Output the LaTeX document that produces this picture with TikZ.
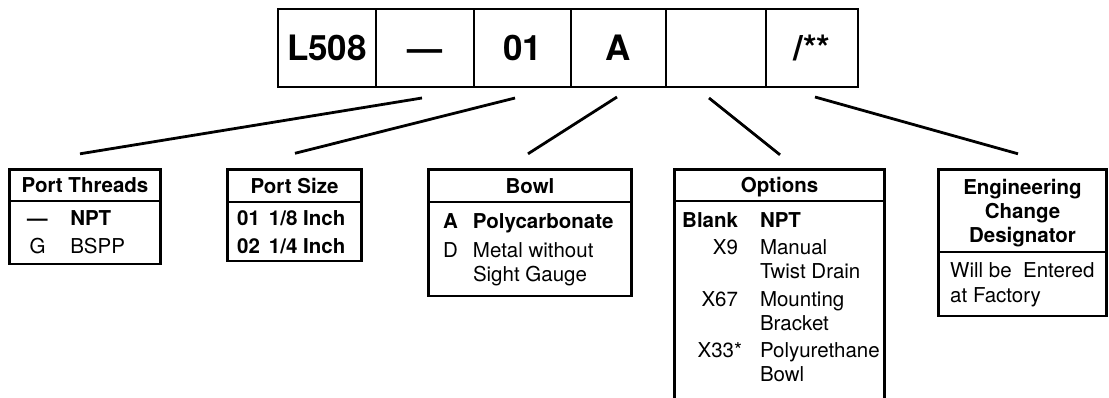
\documentclass[tikz,border=0pt]{standalone}
\usepackage{fontspec}
\setmainfont{TeX Gyre Heros}
\usetikzlibrary{positioning, calc}
\tikzstyle{cell} = [rectangle, draw=black, line width=2.6pt, outer sep=0pt, inner sep=0pt, minimum height=78pt, font=\fontsize{35}{40}\selectfont\bfseries, text height=25pt, text depth=0pt]
\tikzstyle{head} = [rectangle, draw=black, line width=2.6pt, outer sep=0pt, inner sep=0pt, align=center, font=\fontsize{20.5}{24}\selectfont\bfseries, text depth=0pt]
\tikzstyle{frame} = [rectangle, draw=black, line width=2.6pt, outer sep=0pt, inner sep=0pt]
\tikzstyle{entries} = [inner sep=0pt, anchor=base west, font=\fontsize{20.5}{24}\selectfont]
\tikzstyle{link} = [line width=2.8pt]

\begin{document}
\begin{tikzpicture}[x=1pt, y=-1pt]
      \useasboundingbox (0,0) rectangle (1109,397);
      % model code
      \node[cell, minimum width=98pt, anchor=north west] (model) at (278,9) {L508};
      \node[cell, minimum width=98pt, right=0pt of model] (dash) {—};
      \node[cell, minimum width=97pt, right=0pt of dash] (size) {01};
      \node[cell, minimum width=95pt, right=0pt of size] (bowl) {A};
      \node[cell, minimum width=100pt, right=0pt of bowl] (opt) {};
      \node[cell, minimum width=92pt, right=0pt of opt] (eng) {/**};

      % tables
      \node[head, minimum width=151.4pt, minimum height=31.7pt, anchor=north west] (threadshead) at (9.3,169.3) {Port Threads};
      \node[frame, minimum width=151.4pt, minimum height=63pt, below=0pt of threadshead] (threadsbody) {};
      \node[entries] (threadslist) at ($(threadsbody.north west)+(17.7,24)$) {\begin{tabular}[t]{@{}c@{\hspace{22.5pt}}l@{}}
        \textbf{—} & \textbf{NPT}\\[4pt]
        G & BSPP
      \end{tabular}};

      \node[head, minimum width=134.4pt, minimum height=32.7pt, anchor=north west] (sizehead) at (227.3,169.3) {Port Size};
      \node[frame, minimum width=134.4pt, minimum height=59pt, below=0pt of sizehead] (sizebody) {};
      \node[entries, font=\fontsize{20.5}{24}\selectfont\bfseries] (sizelist) at ($(sizebody.north west)+(9.7,23)$) {\begin{tabular}[t]{@{}l@{\hspace{9pt}}l@{}}
        01 & 1/8 Inch\\[4pt]
        02 & 1/4 Inch
      \end{tabular}};

      \node[head, minimum width=203.4pt, minimum height=32.7pt, anchor=north west] (bowlhead) at (428.3,169.3) {Bowl};
      \node[frame, minimum width=203.4pt, minimum height=94pt, below=0pt of bowlhead] (bowlbody) {};
      \node[entries] (bowllist) at ($(bowlbody.north west)+(14.7,26)$) {\begin{tabular}[t]{@{}l@{\hspace{15pt}}l@{}}
        \textbf{A} & \textbf{Polycarbonate}\\[5pt]
        D & Metal without\\
          & Sight Gauge
      \end{tabular}};

      \node[head, minimum width=210.4pt, minimum height=31.7pt, anchor=north west] (opthead) at (674.3,169.3) {Options};
      \node[frame, minimum width=210.4pt, minimum height=240pt, below=0pt of opthead] (optbody) {};
      \node[entries] (optlist) at ($(optbody.north west)+(7.7,26)$) {\begin{tabular}[t]{@{}r@{\hspace{22pt}}l@{}}
        \textbf{Blank} & \textbf{NPT}\\[3pt]
        X9 & Manual\\
           & Twist Drain\\[4pt]
        X67 & Mounting\\
            & Bracket\\[3pt]
        X33*\hspace{-4pt} & Polyurethane\\
             & Bowl
      \end{tabular}};

      \node[head, minimum width=168.4pt, minimum height=82.7pt, anchor=north west] (enghead) at (938.3,169.3) {Engineering\\Change\\Designator};
      \node[frame, minimum width=168.4pt, minimum height=64pt, below=0pt of enghead] (engbody) {};
      \node[entries] (englist) at ($(engbody.north west)+(11.7,25)$) {\begin{tabular}[t]{@{}l@{}}
        Will be~~Entered\\[1pt]
        at Factory
      \end{tabular}};

      % connectors
      \coordinate (dashfoot) at ($(dash.south)+(-3,11)$);
      \coordinate (sizefoot) at ($(size.south)+(-7.5,11)$);
      \coordinate (bowlfoot) at ($(bowl.south)+(-1.5,10)$);
      \coordinate (optfoot) at ($(opt.south)+(-7,11)$);
      \coordinate (engfoot) at ($(eng.south)+(3,10)$);
      \coordinate (threadstop) at ($(threadshead.north)+(-5,-15.5)$);
      \coordinate (sizetop) at ($(sizehead.north)+(0.5,-16)$);
      \coordinate (bowltop) at ($(bowlhead.north)+(-2,-15.5)$);
      \coordinate (opttop) at ($(opthead.north)+(0.5,-14.5)$);
      \coordinate (engtop) at ($(enghead.north)+(-4.5,-15.5)$);

      \draw[link] (dashfoot) -- (threadstop);
      \draw[link] (sizefoot) -- (sizetop);
      \draw[link] (bowlfoot) -- (bowltop);
      \draw[link] (optfoot) -- (opttop);
      \draw[link] (engfoot) -- (engtop);
    \end{tikzpicture}
\end{document}
